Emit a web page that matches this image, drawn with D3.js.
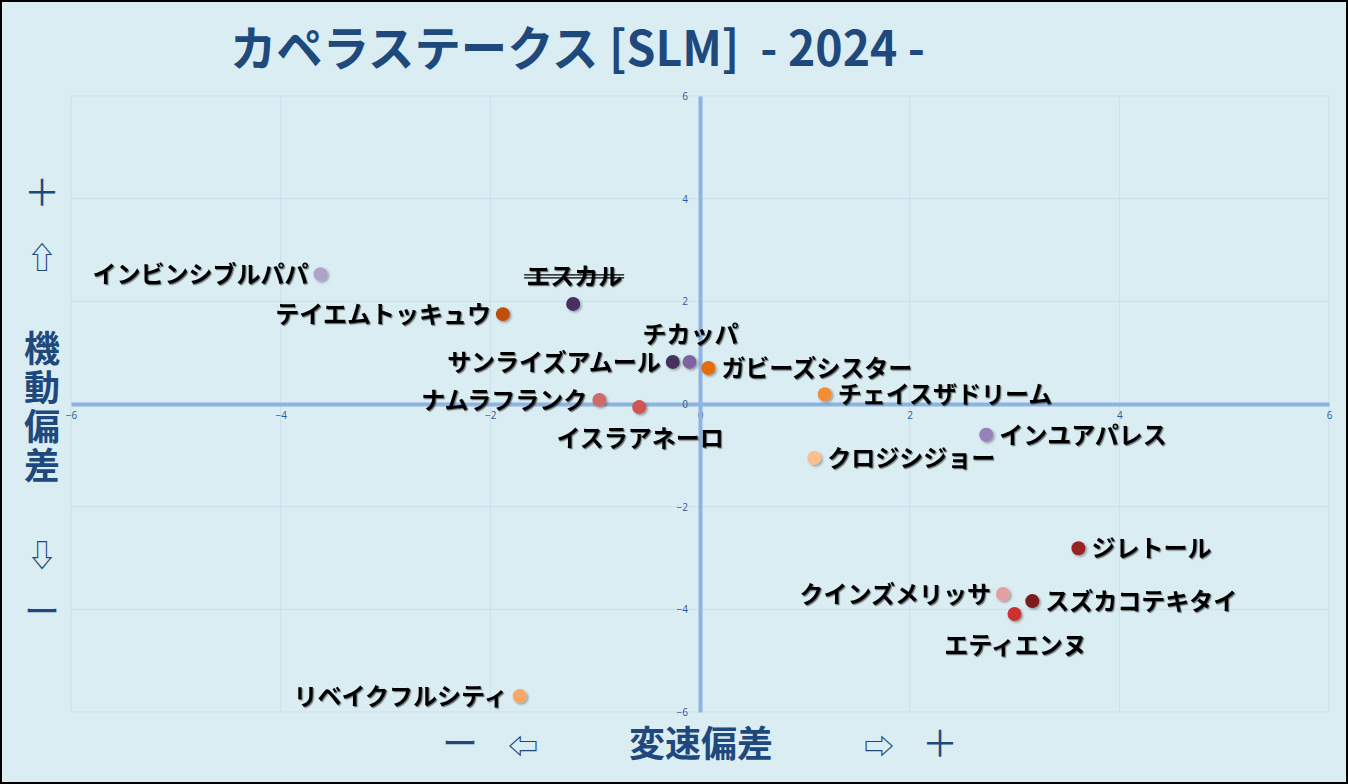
<!DOCTYPE html>
<html><head><meta charset="utf-8">
<script src="https://cdn.jsdelivr.net/npm/d3@7"></script>
<style>
html,body{margin:0;padding:0;background:#daedf3;}
svg{display:block;}
</style></head>
<body>
<svg id="c" width="1348" height="784"></svg>
<script>
const horses = ["インビンシブルパパ","エスカル","テイエムトッキュウ","サンライズアムール","チカッパ","ガビーズシスター","ナムラフランク","イスラアネーロ","チェイスザドリーム","インユアパレス","クロジシジョー","ジレトール","クインズメリッサ","スズカコテキタイ","エティエンヌ","リベイクフルシティ"];
const speedDev = [-3.62,-1.21,-1.88,-0.26,-0.10,0.08,-0.96,-0.58,1.19,2.73,1.09,3.61,2.89,3.17,3.00,-1.72];
const mobilityDev = [2.53,1.95,1.75,0.82,0.82,0.70,0.08,-0.06,0.19,-0.60,-1.05,-2.81,-3.70,-3.84,-4.09,-5.69];
const tickValues = [-6,-4,-2,0,2,4,6];
const scratched = ["エスカル"];

// styles (kept apart from data)
const pointColor = {"インビンシブルパパ":"#b3a2c7","エスカル":"#4a2f62","テイエムトッキュウ":"#c0500f","サンライズアムール":"#44305c","チカッパ":"#8064a2","ガビーズシスター":"#e46c0a","ナムラフランク":"#d06b68","イスラアネーロ":"#d05552","チェイスザドリーム":"#f38d35","インユアパレス":"#9880b8","クロジシジョー":"#fbbf8e","ジレトール":"#9b2323","クインズメリッサ":"#e3a0a0","スズカコテキタイ":"#7a1a1a","エティエンヌ":"#cc3333","リベイクフルシティ":"#f9a868"};
const labelSide = {"エスカル":"t","チカッパ":"t","イスラアネーロ":"b","エティエンヌ":"b","インビンシブルパパ":"l","テイエムトッキュウ":"l","サンライズアムール":"l","ナムラフランク":"l","クインズメリッサ":"l","リベイクフルシティ":"l"};

const svg = d3.select("#c");
const W = 1348, H = 784;
const x = d3.scaleLinear().domain([-6,6]).range([71,1329]);
const y = d3.scaleLinear().domain([-6,6]).range([712,96]);
const blue = "#1f497d";

const defs = svg.append("defs");
const f = defs.append("filter").attr("id","sh").attr("x","-50%").attr("y","-50%").attr("width","200%").attr("height","200%");
f.append("feDropShadow").attr("dx",1.5).attr("dy",1.5).attr("stdDeviation",1).attr("flood-color","#000").attr("flood-opacity",0.35);
const ft = defs.append("filter").attr("id","tsh").attr("x","-10%").attr("y","-30%").attr("width","120%").attr("height","160%");
ft.append("feDropShadow").attr("dx",1.2).attr("dy",1.2).attr("stdDeviation",0.7).attr("flood-color","#000").attr("flood-opacity",0.5);

svg.append("rect").attr("x",0).attr("y",0).attr("width",W).attr("height",H).attr("fill","#daedf3");
svg.append("rect").attr("x",1).attr("y",1).attr("width",W-2).attr("height",H-2).attr("fill","none").attr("stroke","#000").attr("stroke-width",2);

// gridlines
const g = svg.append("g");
g.selectAll(".gx").data(tickValues).join("line")
  .attr("x1",d=>x(d)).attr("x2",d=>x(d)).attr("y1",y(6)).attr("y2",y(-6))
  .attr("stroke","#cbdff0").attr("stroke-width",1);
g.selectAll(".gy").data(tickValues).join("line")
  .attr("y1",d=>y(d)).attr("y2",d=>y(d)).attr("x1",x(-6)).attr("x2",x(6))
  .attr("stroke","#cbdff0").attr("stroke-width",1);

// axes via d3 axis generators
const xAxis = d3.axisBottom(x).tickValues(tickValues).tickSize(0).tickPadding(10).tickFormat(d3.format("d"));
const yAxis = d3.axisLeft(y).tickValues(tickValues).tickSize(0).tickPadding(10).tickFormat(d3.format("d"));
const xa = svg.append("g").attr("transform",`translate(0,${y(0)})`).call(xAxis);
const ya = svg.append("g").attr("transform",`translate(${x(0)},0)`).call(yAxis);
[xa,ya].forEach(a=>{
  a.select(".domain").attr("stroke","#8db3e2").attr("stroke-width",4);
  a.selectAll("text").attr("fill","#2a5a9a").attr("font-family","'Open Sans',sans-serif").attr("font-size",10);
});
xa.selectAll("text").attr("dy","0.5em");
ya.selectAll("text").attr("dx","-2").attr("dy","0.35em");

// points
const data = horses.map((n,i)=>({name:n,sx:speedDev[i],my:mobilityDev[i]}));
const pts = svg.append("g");
pts.selectAll("circle").data(data).join("circle")
  .attr("cx",d=>x(d.sx)).attr("cy",d=>y(d.my)).attr("r",7)
  .attr("fill",d=>pointColor[d.name]).attr("filter","url(#sh)");

// labels
const lab = svg.append("g").attr("font-family","'Noto Sans CJK JP',sans-serif").attr("font-weight","bold").attr("font-size",24).attr("fill","#000");
data.forEach(d=>{
  const side = labelSide[d.name] || "r";
  const px = x(d.sx), py = y(d.my);
  let tx=px, ty=py, anchor="start";
  if(side==="r"){tx=px+13; ty=py+9; anchor="start";}
  if(side==="l"){tx=px-12; ty=py+9; anchor="end";}
  if(side==="t"){tx=px+1; ty=py-19; anchor="middle";}
  if(side==="b"){tx=px+1; ty=py+40; anchor="middle";}
  const t = lab.append("text").attr("x",tx).attr("y",ty).attr("text-anchor",anchor).attr("filter","url(#tsh)").text(d.name);
  if(scratched.includes(d.name)){
    const bb = t.node().getBBox();
    [-2,1].forEach(o=>{
      lab.append("line").attr("x1",bb.x-2).attr("x2",bb.x+bb.width+2).attr("y1",ty-8+o).attr("y2",ty-8+o)
        .attr("stroke","#000").attr("stroke-width",1.3);
    });
  }
});

// title
svg.append("text").attr("x",230).attr("y",66).attr("textLength",695).attr("lengthAdjust","spacingAndGlyphs")
  .style("white-space","pre")
  .attr("font-family","'Noto Sans CJK JP',sans-serif").attr("font-weight","bold").attr("font-size",48).attr("fill",blue)
  .text("カペラステークス [SLM]  - 2024 -");

// y axis title (vertical)
const yt = svg.append("g").attr("font-family","'Noto Sans CJK JP',sans-serif").attr("fill",blue).attr("text-anchor","middle");
const yItems = [["＋",206,36,"normal"],["⇧",268,30,"normal"],["機",362,36,"bold"],["動",401,36,"bold"],["偏",440,36,"bold"],["差",479,36,"bold"],["⇩",566,30,"normal"],["ー",625,36,"normal"]];
yItems.forEach(([s,yy,fs,fw])=>{
  yt.append("text").attr("x",42).attr("y",yy).attr("font-size",fs).attr("font-weight",fw).text(s);
});

// x axis title
const xt = svg.append("g").attr("font-family","'Noto Sans CJK JP',sans-serif").attr("fill",blue).attr("text-anchor","middle");
const xItems = [["ー",460,36,"normal"],["⇦",523,30,"normal"],["変速偏差",701,36,"bold"],["⇨",879,30,"normal"],["＋",940,36,"normal"]];
xItems.forEach(([s,xx,fs,fw])=>{
  xt.append("text").attr("x",xx).attr("y",757).attr("font-size",fs).attr("font-weight",fw).text(s);
});
</script>
</body></html>
